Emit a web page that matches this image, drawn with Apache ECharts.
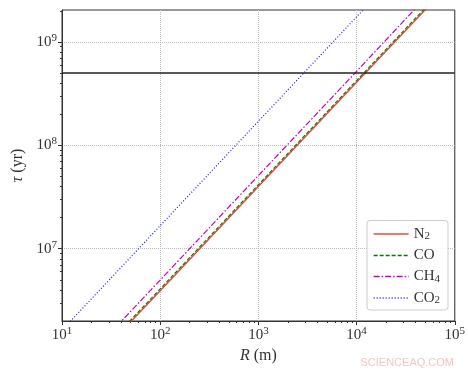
<!DOCTYPE html>
<html>
<head>
<meta charset="utf-8">
<script src="https://cdn.jsdelivr.net/npm/echarts@6/dist/echarts.min.js"></script>
<style>
  html, body { margin: 0; padding: 0; background: #fff; }
  #chart { width: 468px; height: 373px; }
</style>
</head>
<body>
<div id="chart"></div>
<script>
// values (log-log, tau in yr vs R in m)
var radiusN2 = [40, 100, 1000, 10000, 60000];
var tauN2 = [1.57e6, 3.93e6, 4.0e7, 4.08e8, 2.46e9];
var radiusCO = [40, 100, 1000, 10000, 60000];
var tauCO = [1.63e6, 4.09e6, 4.16e7, 4.24e8, 2.56e9];
var radiusCH4 = [30, 100, 1000, 10000, 50000];
var tauCH4 = [1.48e6, 4.98e6, 5.1e7, 5.2e8, 2.66e9];
var radiusCO2 = [10, 100, 1000, 10000, 20000];
var tauCO2 = [1.63e6, 1.67e7, 1.71e8, 1.75e9, 3.5e9];
var limitR = [10, 100000];
var limitTau = [5e8, 5e8];

var xMajor = [10, 100, 1000, 10000, 100000];
var yMajor = [1e7, 1e8, 1e9];

function minorTicks(lo, hi) {
    var out = [];
    for (var d = lo; d < hi; d *= 10) {
        for (var k = 2; k <= 9; k++) out.push(k * d);
    }
    return out;
}
var xMinor = minorTicks(10, 100000);
var yMinor = minorTicks(1e6, 1e10).filter(function (v) { return v > 2e6 && v < 2.04e9; });

function pairs(xs, ys) {
    return xs.map(function (x, i) { return [x, ys[i]]; });
}

var serif = 'Liberation Serif';
var ink = '#333';

var styles = {
    N2: { color: '#e8483a', type: 'solid', width: 1.4 },
    CO: { color: '#007a00', type: [4, 2], width: 1.1 },
    CH4: { color: '#c000c0', type: [6, 2, 1.5, 2], width: 1.2 },
    CO2: { color: '#1a1aff', type: [1, 2], width: 1.2 }
};

function powLabel(v) {
    return '{b|10}{s|' + Math.round(Math.log10(v)) + '}';
}
var powRich = {
    b: { fontFamily: serif, fontSize: 15, color: ink },
    s: { fontFamily: serif, fontSize: 11, color: ink, padding: [0, 0, 8, 0] }
};

function majorAxis(min, max, major, extra) {
    var ax = {
        type: 'log', logBase: 10, min: min, max: max,
        axisLine: { show: true, lineStyle: { color: ink, width: 1 } },
        axisTick: { show: true, customValues: major, length: 4, lineStyle: { color: ink } },
        axisLabel: { customValues: major, formatter: powLabel, rich: powRich, margin: 5 },
        splitLine: { show: true, lineStyle: { type: 'dotted', color: '#bbb', width: 1 } }
    };
    for (var k in extra) ax[k] = extra[k];
    return ax;
}
function minorAxis(min, max, minor, pos) {
    return {
        type: 'log', logBase: 10, min: min, max: max, position: pos,
        axisLine: { show: false },
        axisTick: { show: true, customValues: minor, length: 2, lineStyle: { color: ink } },
        axisLabel: { show: false },
        splitLine: { show: false }
    };
}

function lineSeries(name, data) {
    var s = styles[name];
    return {
        name: name, type: 'line', data: data, symbol: 'none', showSymbol: false,
        xAxisIndex: 0, yAxisIndex: 0, clip: true, silent: true,
        lineStyle: { color: s.color, width: s.width, type: s.type },
        itemStyle: { color: s.color }
    };
}

var legendNames = ['N2', 'CO', 'CH4', 'CO2'];

var chart = echarts.init(document.getElementById('chart'), null, { renderer: 'canvas' });
chart.setOption({
    animation: false,
    backgroundColor: '#fff',
    grid: { left: 62, right: 13, top: 10, bottom: 52, show: true, borderColor: ink, borderWidth: 1, backgroundColor: 'transparent' },
    xAxis: [
        majorAxis(10, 100000, xMajor, {
            position: 'bottom',
            name: '{i|R} (m)', nameLocation: 'middle', nameGap: 25,
            nameTextStyle: { fontFamily: serif, fontSize: 16, color: ink, rich: { i: { fontFamily: serif, fontStyle: 'italic', fontSize: 16, color: ink } } }
        }),
        minorAxis(10, 100000, xMinor, 'bottom')
    ],
    yAxis: [
        majorAxis(2e6, 2.04e9, yMajor, {
            position: 'left',
            name: '{i|τ} (yr)', nameLocation: 'middle', nameGap: 31, nameRotate: 90,
            nameTextStyle: { fontFamily: serif, fontSize: 16, color: ink, rich: { i: { fontFamily: serif, fontStyle: 'italic', fontSize: 16, color: ink } } }
        }),
        minorAxis(2e6, 2.04e9, yMinor, 'left')
    ],
    legend: {
        orient: 'vertical', right: 20, bottom: 63,
        data: legendNames.map(function (n) {
            var s = styles[n];
            return { name: n, itemStyle: { opacity: 0 }, lineStyle: { color: s.color, type: s.type, width: 1.3 } };
        }),
        itemWidth: 35, itemHeight: 10, itemGap: 6,
        backgroundColor: 'rgba(255,255,255,0.85)', borderColor: '#ccc', borderWidth: 1, borderRadius: 3,
        padding: [6, 8, 4, 6],
        formatter: function (name) {
            var m = name.match(/^([A-Z]+)(\d*)$/);
            return m[2] ? '{t|' + m[1] + '}{s|' + m[2] + '}' : '{t|' + name + '}';
        },
        textStyle: {
            fontFamily: serif, fontSize: 15, color: ink,
            rich: {
                t: { fontFamily: serif, fontSize: 15, color: ink },
                s: { fontFamily: serif, fontSize: 11, color: ink, padding: [5, 0, 0, 0] }
            }
        }
    },
    graphic: [{
        type: 'text', right: 14, bottom: 5,
        style: { text: 'SCIENCEAQ.COM', fontFamily: 'Liberation Sans', fontSize: 11, fill: '#f3c6c6' }
    }],
    series: [
        lineSeries('N2', pairs(radiusN2, tauN2)),
        lineSeries('CO', pairs(radiusCO, tauCO)),
        lineSeries('CH4', pairs(radiusCH4, tauCH4)),
        lineSeries('CO2', pairs(radiusCO2, tauCO2)),
        {
            name: 'limit', type: 'line', data: pairs(limitR, limitTau), symbol: 'none',
            xAxisIndex: 0, yAxisIndex: 0, silent: true,
            lineStyle: { color: '#222', width: 1.5 }
        }
    ]
});
</script>
</body>
</html>
